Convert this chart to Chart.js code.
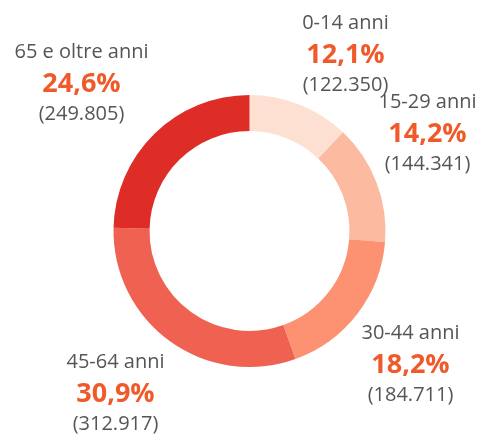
<!DOCTYPE html>
<html>
<head>
<meta charset="utf-8">
<script src="https://cdn.jsdelivr.net/npm/chart.js@4"></script>
<style>
    html, body { margin: 0; padding: 0; background: #fff; }
    #wrap { width: 483px; height: 435px; }
</style>
</head>
<body>
<div id="wrap"><canvas id="chart"></canvas></div>
<script>
const categories = ['0-14 anni', '15-29 anni', '30-44 anni', '45-64 anni', '65 e oltre anni'];
const residents = [122350, 144341, 184711, 312917, 249805];
const colors = ['#fee0d2', '#fcbba1', '#fc9272', '#ef6150', '#de2d26'];

// where each label block sits, relative to the ring centre (first baseline)
const labelOffsets = [
    [96, -202],
    [178, -123],
    [161, 108],
    [-134, 137],
    [-168, -173]
];

const FONT = '"Open Sans", "Noto Sans", sans-serif';
const total = residents.reduce((a, b) => a + b, 0);
const pct = v => (v / total * 100).toFixed(1).replace('.', ',') + '%';
const thousands = v => v.toString().replace(/\B(?=(\d{3})+(?!\d))/g, '.');

const sliceLabels = {
    id: 'sliceLabels',
    afterDraw(chart) {
        const ctx = chart.ctx;
        const arcs = chart.getDatasetMeta(0).data;
        ctx.save();
        ctx.textAlign = 'center';
        ctx.textBaseline = 'alphabetic';
        arcs.forEach((arc, i) => {
            const x = arc.x + labelOffsets[i][0];
            const y = arc.y + labelOffsets[i][1];
            ctx.fillStyle = '#555555';
            ctx.font = '20px ' + FONT;
            ctx.fillText(categories[i], x, y);
            ctx.fillStyle = '#f05a2a';
            ctx.font = 'bold 27px ' + FONT;
            ctx.fillText(pct(residents[i]), x, y + 34);
            ctx.fillStyle = '#555555';
            ctx.font = '20px ' + FONT;
            ctx.fillText('(' + thousands(residents[i]) + ')', x, y + 62);
        });
        ctx.restore();
    }
};

new Chart(document.getElementById('chart'), {
    type: 'doughnut',
    data: {
        labels: categories,
        datasets: [{
            data: residents,
            backgroundColor: colors,
            borderWidth: 0
        }]
    },
    options: {
        responsive: true,
        maintainAspectRatio: false,
        animation: false,
        cutout: '73.5%',
        layout: { padding: { left: 113, right: 97, top: 95, bottom: 68 } },
        plugins: {
            legend: { display: false },
            tooltip: { enabled: false }
        }
    },
    plugins: [sliceLabels]
});
</script>
</body>
</html>
